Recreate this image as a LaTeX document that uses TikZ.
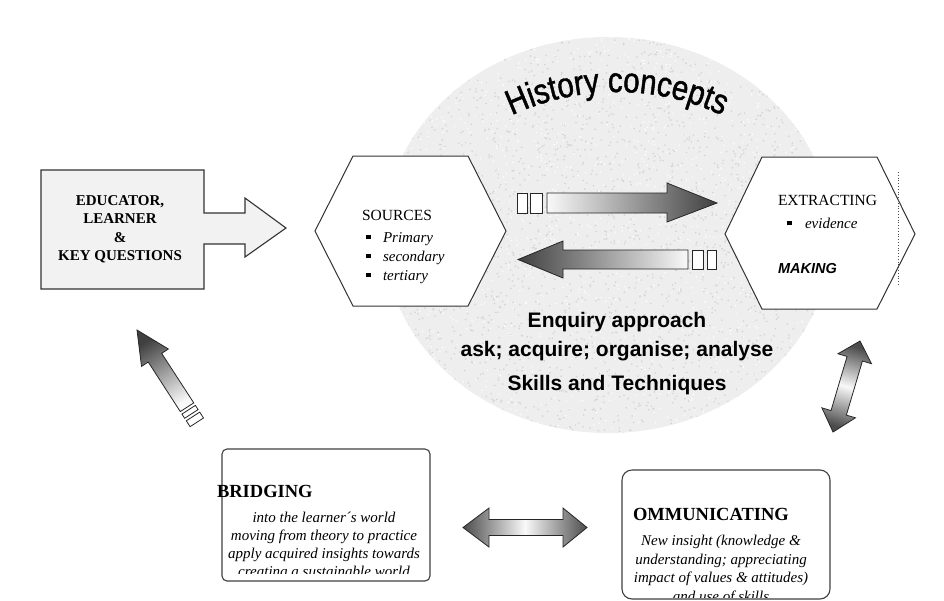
\documentclass[tikz,border=0pt]{standalone}
\usepackage{fontspec}
\setmainfont{Liberation Serif}
\setsansfont{Liberation Sans}
\newfontfamily\hcfont[FakeStretch=0.84,FakeBold=1.3]{Liberation Sans}
\usetikzlibrary{calc,decorations.text}
\newcommand{\sqb}{\rule[0.18em]{0.32em}{0.32em}}
\tikzset{
  hexa/.style={draw=black!80, line width=1pt, fill=white},
  boxline/.style={draw=black!75, line width=1.1pt, fill=white},
  grad/.style={draw=black!85, line width=0.8pt},
  stripe/.style={draw=black!85, line width=0.8pt, fill=white},
  lbl/.style={inner sep=0pt, outer sep=0pt},
  edutxt/.style={lbl, align=center, font=\fontsize{15}{18.5}\selectfont\bfseries},
  captxt/.style={lbl, font=\fontsize{15.5}{18}\selectfont},
  itxt/.style={lbl, font=\fontsize{15}{18}\selectfont\itshape},
  bigcap/.style={lbl, font=\fontsize{18.5}{22}\selectfont\bfseries},
  enq/.style={lbl, font=\fontsize{21}{24}\selectfont\sffamily\bfseries},
}
\begin{document}
\begin{tikzpicture}[x=1pt,y=-1pt]
\useasboundingbox (0,0) rectangle (944,600);
\fill[white] (0,0) rectangle (944,600);

% speckled ellipse
\coordinate (ec) at (608,235);
\begin{scope}
  \clip (ec) ellipse [x radius=224, y radius=198];
  \fill[gray!13] (ec) ellipse [x radius=224, y radius=198];
  \pgfmathsetseed{11}
  \foreach \i in {1,...,2600} {\fill[gray!34] ({384+448*rnd},{37+396*rnd}) circle (0.9);}
  \foreach \i in {1,...,1400} {\fill[white] ({384+448*rnd},{37+396*rnd}) circle (0.8);}
\end{scope}

% History concepts (arched)
\coordinate (hc) at (617,340);
\path[decorate, decoration={text along path, text align=center,
    text={|\fontsize{35}{35}\selectfont\hcfont|History concepts}}]
  ($(hc)+(128:248pt)$) arc[start angle=128, end angle=52, radius=248pt];

% educator box with arrow
\draw[fill=gray!10, draw=black!80, line width=1.1pt]
  (41,170) -- (204,170) -- (204,213) -- (245,213) -- (245,198) -- (286,228)
  -- (245,257) -- (245,244) -- (204,244) -- (204,289) -- (41,289) -- cycle;
\node[edutxt] (edu) at (120,229) {EDUCATOR,\\LEARNER\\\&\\KEY QUESTIONS};

% sources hexagon
\draw[hexa] (315,231) -- (353,156) -- (468,156) -- (506,231) -- (468,306) -- (353,306) -- cycle;
\node[captxt, anchor=base] (src) at (397,220) {SOURCES};
\node[itxt, anchor=base west] (src1) at (366,242) {\makebox[17pt][l]{\sqb}Primary};
\node[itxt, anchor=base west] (src2) at (366,261) {\makebox[17pt][l]{\sqb}secondary};
\node[itxt, anchor=base west] (src3) at (366,280) {\makebox[17pt][l]{\sqb}tertiary};

% extracting hexagon
\draw[hexa] (725,234) -- (762,157) -- (877,157) -- (915,234) -- (877,309) -- (762,309) -- cycle;
\coordinate (dt) at (898,172);
\coordinate (db) at (898,285);
\draw[black!70, dotted, line width=0.8pt] (dt) -- (db);
\node[captxt, anchor=base] (ext) at (827.5,205) {EXTRACTING};
\node[itxt, anchor=base west] (ext1) at (787,228) {\makebox[18pt][l]{\sqb}evidence};
\node[lbl, anchor=base west, font=\fontsize{14.5}{16}\selectfont\sffamily\bfseries\itshape] (mak) at (778,273) {MAKING};

% top arrow (to the right)
\draw[grad, left color=gray!5, right color=black!75]
  (547,193) -- (667,193) -- (667,183) -- (717,203) -- (667,222) -- (667,213) -- (547,213) -- cycle;
\draw[stripe] (517,193) rectangle (527,213);
\draw[stripe] (530,193) rectangle (542,213);

% second arrow (to the left)
\draw[grad, left color=black!75, right color=gray!5]
  (518,259.5) -- (563,241) -- (563,250) -- (688,250) -- (688,269) -- (563,269) -- (563,278) -- cycle;
\draw[stripe] (692,250) rectangle (703,269);
\draw[stripe] (707,250) rectangle (716,269);

% enquiry text
\node[enq, anchor=base] (enq1) at (617,327) {Enquiry approach};
\node[enq, anchor=base] (enq2) at (617,356) {ask; acquire; organise; analyse};
\node[enq, anchor=base] (enq3) at (617,390) {Skills and Techniques};

% diagonal double arrow (right)
\coordinate (dA) at (833,432);
\coordinate (dB) at (860,341);
\coordinate (dA1) at ($(dA)!20pt!(dB)$);
\coordinate (dB1) at ($(dB)!18.5pt!(dA)$);
\draw[grad, top color=black!70, bottom color=black!70, middle color=gray!5, shading angle=-16.5]
  (dA) -- ($(dA1)!17.5pt!-90:(dB)$) -- ($(dA1)!8pt!-90:(dB)$) -- ($(dB1)!8pt!90:(dA)$)
  -- ($(dB1)!17.5pt!90:(dA)$) -- (dB) -- ($(dB1)!17.5pt!-90:(dA)$) -- ($(dB1)!8pt!-90:(dA)$)
  -- ($(dA1)!8pt!90:(dB)$) -- ($(dA1)!17.5pt!90:(dB)$) -- cycle;

% diagonal arrow (left, pointing up-left)
\coordinate (lP) at (137,330);
\coordinate (lE) at (196.8,422.3);
\coordinate (lH) at ($(lP)!33pt!(lE)$);
\coordinate (lT) at ($(lP)!92pt!(lE)$);
\draw[grad, top color=black!75, bottom color=gray!5, shading angle=33]
  (lP) -- ($(lH)!16pt!90:(lE)$) -- ($(lH)!8pt!90:(lE)$) -- ($(lT)!8pt!-90:(lP)$)
  -- ($(lT)!8pt!90:(lP)$) -- ($(lH)!8pt!-90:(lE)$) -- ($(lH)!16pt!-90:(lE)$) -- cycle;
\coordinate (s1a) at ($(lP)!95pt!(lE)$);
\coordinate (s1b) at ($(lP)!100pt!(lE)$);
\coordinate (s2a) at ($(lP)!103pt!(lE)$);
\coordinate (s2b) at ($(lP)!110pt!(lE)$);
\draw[stripe] ($(s1a)!8pt!90:(lP)$) -- ($(s1b)!8pt!90:(lP)$) -- ($(s1b)!8pt!-90:(lP)$) -- ($(s1a)!8pt!-90:(lP)$) -- cycle;
\draw[stripe] ($(s2a)!8pt!90:(lP)$) -- ($(s2b)!8pt!90:(lP)$) -- ($(s2b)!8pt!-90:(lP)$) -- ($(s2a)!8pt!-90:(lP)$) -- cycle;

% bottom horizontal double arrow
\draw[grad, left color=black!70, right color=black!70, middle color=gray!5]
  (463,527.5) -- (489,508) -- (489,519.5) -- (563,519.5) -- (563,508) -- (587,527.5)
  -- (563,547) -- (563,535.5) -- (489,535.5) -- (489,547) -- cycle;

% bridging box
\draw[boxline, rounded corners=5pt] (222,449) rectangle (430,581);
\node[bigcap, anchor=base west] (bri) at (217,497) {BRIDGING};
\begin{scope}
  \clip (222,449) rectangle (430,573);
  \node[itxt, anchor=base] (bri1) at (324,522) {into the learner´s world};
  \node[itxt, anchor=base] (bri2) at (324,540) {moving from theory to practice};
  \node[itxt, anchor=base] (bri3) at (324,558) {apply acquired insights towards};
  \node[itxt, anchor=base] (bri4) at (324,576) {creating a sustainable world};
\end{scope}

% communicating box
\draw[boxline, rounded corners=10pt] (622,470) rectangle (830,599);
\node[bigcap, anchor=base west] (com) at (633,520) {OMMUNICATING};
\begin{scope}
  \clip (622,470) rectangle (830,597);
  \node[itxt, anchor=base] (com1) at (721,545) {New insight (knowledge \&};
  \node[itxt, anchor=base] (com2) at (721,564) {understanding; appreciating};
  \node[itxt, anchor=base] (com3) at (721,582) {impact of values \& attitudes)};
  \node[itxt, anchor=base] (com4) at (721,601) {and use of skills};
\end{scope}
\end{tikzpicture}
\end{document}
